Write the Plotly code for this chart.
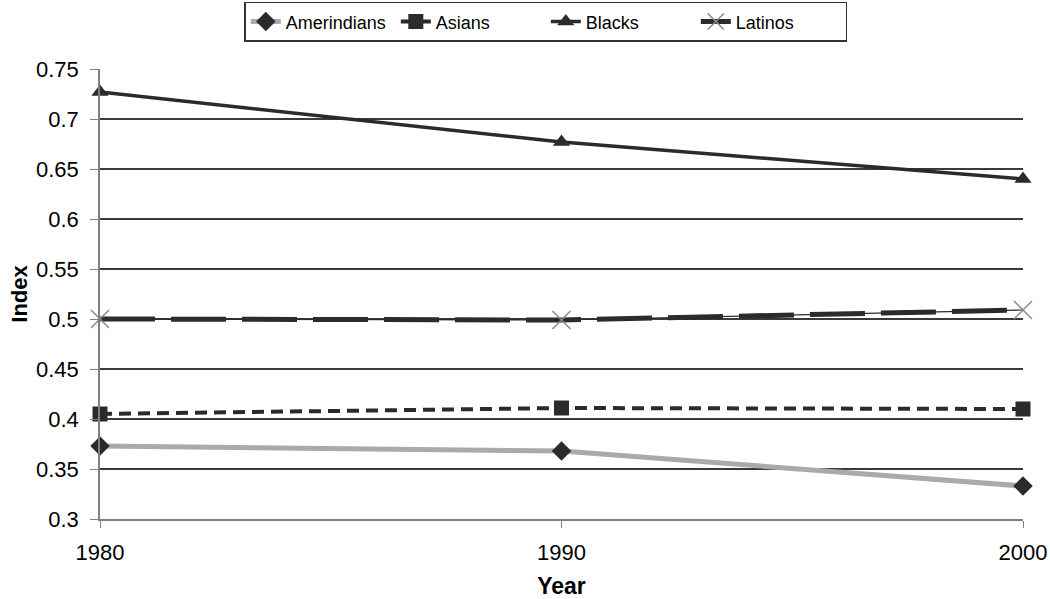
import plotly.graph_objects as go

years = [1980, 1990, 2000]
amerindians = [0.373, 0.368, 0.333]
asians = [0.405, 0.411, 0.410]
blacks = [0.727, 0.677, 0.640]
latinos = [0.500, 0.499, 0.509]

font = "Liberation Sans, Arial, sans-serif"
dark = '#2b2b2b'

fig = go.Figure()
fig.add_trace(go.Scatter(
    x=years, y=amerindians, mode='lines+markers', name='Amerindians',
    line=dict(color='#aaaaaa', width=5), cliponaxis=False,
    marker=dict(symbol='diamond', size=15, color=dark)))
fig.add_trace(go.Scatter(
    x=years, y=asians, mode='lines+markers', name='Asians',
    line=dict(color=dark, width=4, dash='12px,7px'), cliponaxis=False,
    marker=dict(symbol='square', size=15, color=dark)))
fig.add_trace(go.Scatter(
    x=years, y=blacks, mode='lines+markers', name='Blacks',
    line=dict(color=dark, width=3.5), cliponaxis=False,
    marker=dict(symbol='triangle-up', size=15, color=dark)))
# thin line running through the gaps of the long dashes
fig.add_trace(go.Scatter(
    x=years, y=latinos, mode='lines', showlegend=False, hoverinfo='skip',
    line=dict(color=dark, width=1.2)))
fig.add_trace(go.Scatter(
    x=years, y=latinos, mode='lines+markers', name='Latinos',
    line=dict(color=dark, width=5, dash='55px,16px'), cliponaxis=False,
    marker=dict(symbol='x-thin-open', size=18, color='#8a8a8a',
                line=dict(color='#8a8a8a', width=1.5))))

fig.update_layout(
    width=1050, height=599,
    margin=dict(l=100, r=27, t=69, b=80, autoexpand=False),
    paper_bgcolor='white', plot_bgcolor='white',
    font=dict(family=font, size=22, color='black'),
    showlegend=True,
    legend=dict(orientation='h', x=0.483, xanchor='center',
                yref='container', y=0.997, yanchor='top',
                bordercolor='#333333', borderwidth=1.5,
                entrywidth=105, font=dict(size=18)),
    xaxis=dict(range=[1980, 2000], tickvals=years, showgrid=False,
               showline=True, linecolor='#808080', linewidth=1.5,
               ticks='outside', ticklen=7, tickcolor='#808080',
               ticklabelstandoff=6,
               title=dict(text='<b>Year</b>', font=dict(size=23), standoff=27),
               zeroline=False, automargin=False),
    yaxis=dict(range=[0.3, 0.75], dtick=0.05, tickformat='~g',
               showgrid=True, gridcolor='#3a3a3a', gridwidth=1.5,
               showline=True, linecolor='#808080', linewidth=1.5,
               ticks='outside', ticklen=8, tickcolor='#808080',
               ticklabelstandoff=7,
               title=dict(text='<b>Index</b>', font=dict(size=22), standoff=2),
               zeroline=False, automargin=False),
)

fig.write_html("out.html", config={'displayModeBar': False},
               post_script="document.body.style.margin='0';document.body.style.overflow='hidden';")
